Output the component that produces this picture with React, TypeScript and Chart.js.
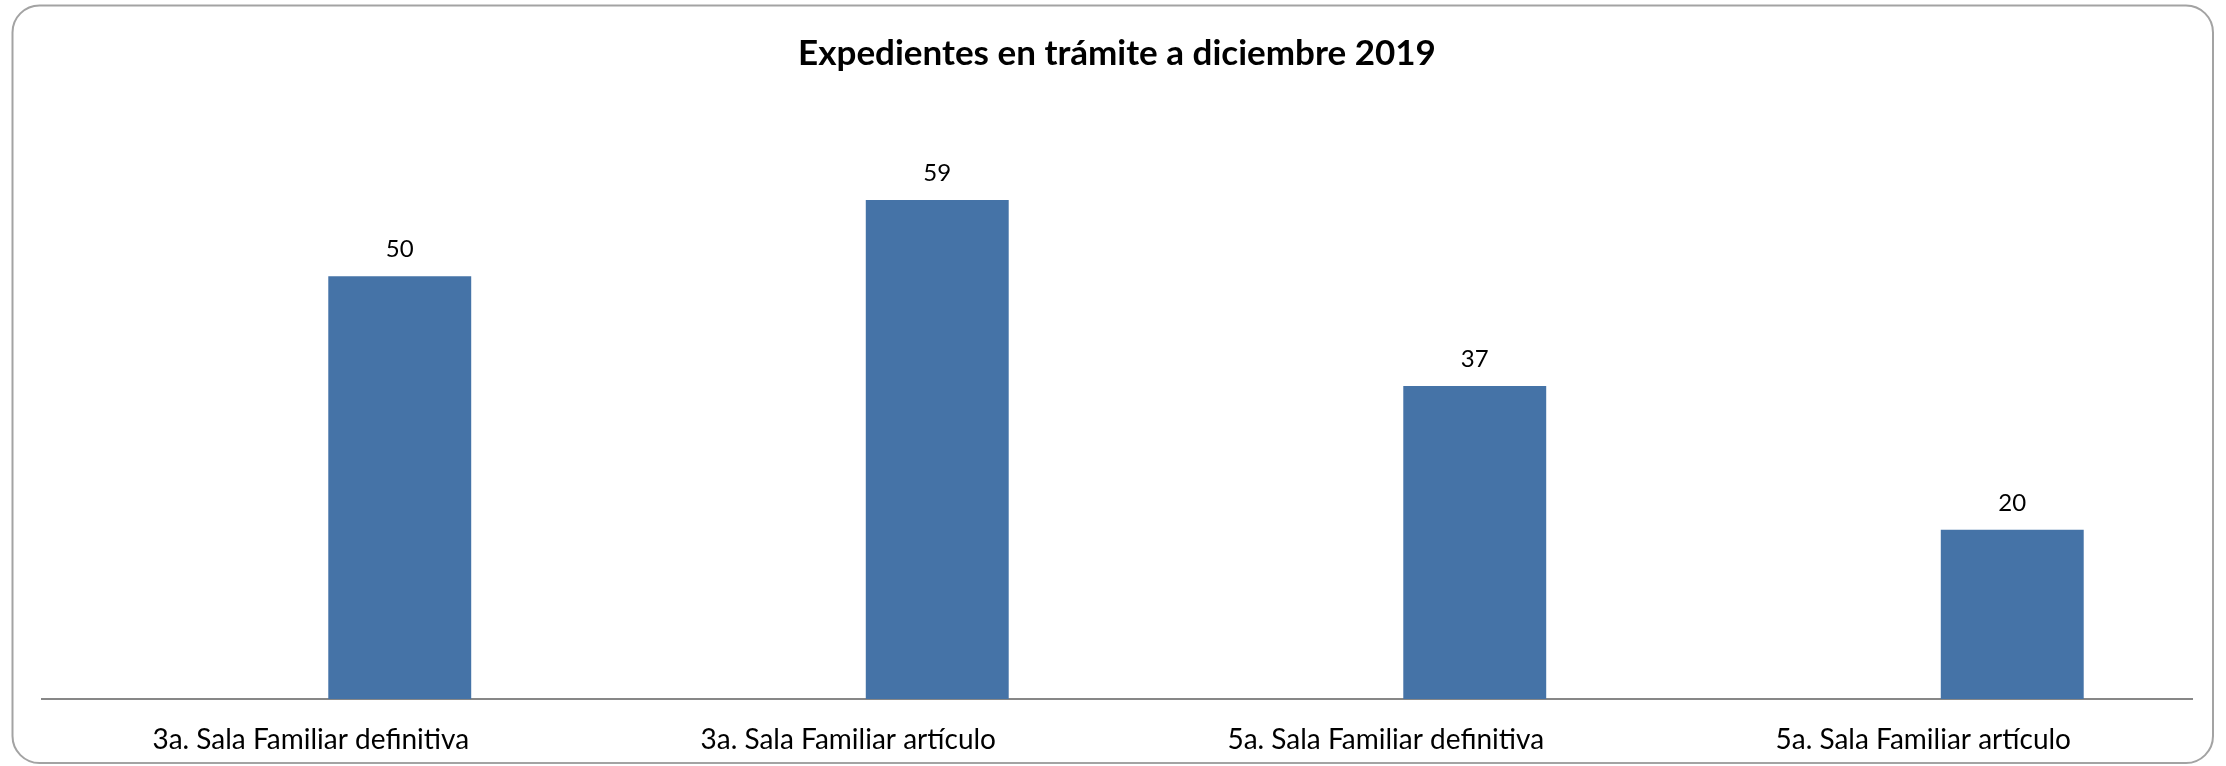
import React, { useEffect, useRef } from "react";
import { Chart, registerables } from "chart.js";

Chart.register(...registerables);

const categories = [
  "3a. Sala Familiar definitiva",
  "3a. Sala Familiar artículo",
  "5a. Sala Familiar definitiva",
  "5a. Sala Familiar artículo",
];
const expedientes = [50, 59, 37, 20];
const emptySeries = [null, null, null, null];
const chartTitle = "Expedientes en trámite a diciembre 2019";

const FONT = "Lato, 'Open Sans', 'DejaVu Sans', sans-serif";

const framePlugin = {
  id: "frame",
  beforeDraw(chart: any) {
    const ctx = chart.ctx;
    ctx.save();
    ctx.fillStyle = "#ffffff";
    ctx.fillRect(0, 0, chart.width, chart.height);
    const x = 12.5, y = 5.5, w = 2213 - 12.5, h = 763 - 5.5, r = 27;
    ctx.beginPath();
    ctx.moveTo(x + r, y);
    ctx.lineTo(x + w - r, y);
    ctx.arcTo(x + w, y, x + w, y + r, r);
    ctx.lineTo(x + w, y + h - r);
    ctx.arcTo(x + w, y + h, x + w - r, y + h, r);
    ctx.lineTo(x + r, y + h);
    ctx.arcTo(x, y + h, x, y + h - r, r);
    ctx.lineTo(x, y + r);
    ctx.arcTo(x, y, x + r, y, r);
    ctx.closePath();
    ctx.strokeStyle = "#a3a3a3";
    ctx.lineWidth = 2;
    ctx.stroke();
    ctx.restore();
  },
};

const valueLabelPlugin = {
  id: "valueLabels",
  afterDatasetsDraw(chart: any) {
    const ctx = chart.ctx;
    const meta = chart.getDatasetMeta(1);
    ctx.save();
    ctx.font = `24px ${FONT}`;
    ctx.fillStyle = "#000000";
    ctx.textAlign = "center";
    ctx.textBaseline = "middle";
    meta.data.forEach((bar: any, i: number) => {
      ctx.fillText(String(expedientes[i]), bar.x, bar.y - 27);
    });
    ctx.restore();
  },
};

export default function App() {
  const canvasRef = useRef<HTMLCanvasElement | null>(null);

  useEffect(() => {
    if (!canvasRef.current) return;
    const chart = new Chart(canvasRef.current, {
      type: "bar",
      data: {
        labels: categories,
        datasets: [
          { label: "", data: emptySeries as any, backgroundColor: "#4573A7" },
          { label: "Expedientes", data: expedientes, backgroundColor: "#4573A7" },
        ],
      },
      options: {
        animation: false,
        responsive: false,
        devicePixelRatio: 1,
        datasets: {
          bar: { categoryPercentage: 0.6623, barPercentage: 0.803 },
        },
        layout: { padding: { top: 5, left: 42, right: 34, bottom: 10 } },
        plugins: {
          legend: { display: false },
          tooltip: { enabled: false },
          title: {
            display: true,
            text: chartTitle,
            color: "#000000",
            font: { family: FONT, size: 35, weight: "bold" },
            padding: { top: 28, bottom: 32 },
          },
        },
        scales: {
          x: {
            grid: { display: false, drawTicks: false },
            border: { display: true, color: "#878787", width: 2 },
            ticks: {
              color: "#000000",
              font: { family: FONT, size: 28 },
              padding: 24,
              maxRotation: 0,
              autoSkip: false,
            },
            afterFit(scale: any) {
              scale.height = 57;
            },
          },
          y: { display: false, min: 0, max: 70 },
        },
      } as any,
      plugins: [framePlugin, valueLabelPlugin],
    });
    return () => chart.destroy();
  }, []);

  return (
    <div style={{ position: "fixed", left: 0, top: 0, width: 2226, height: 766 }}>
      <canvas ref={canvasRef} width={2226} height={766} style={{ display: "block" }} />
    </div>
  );
}
